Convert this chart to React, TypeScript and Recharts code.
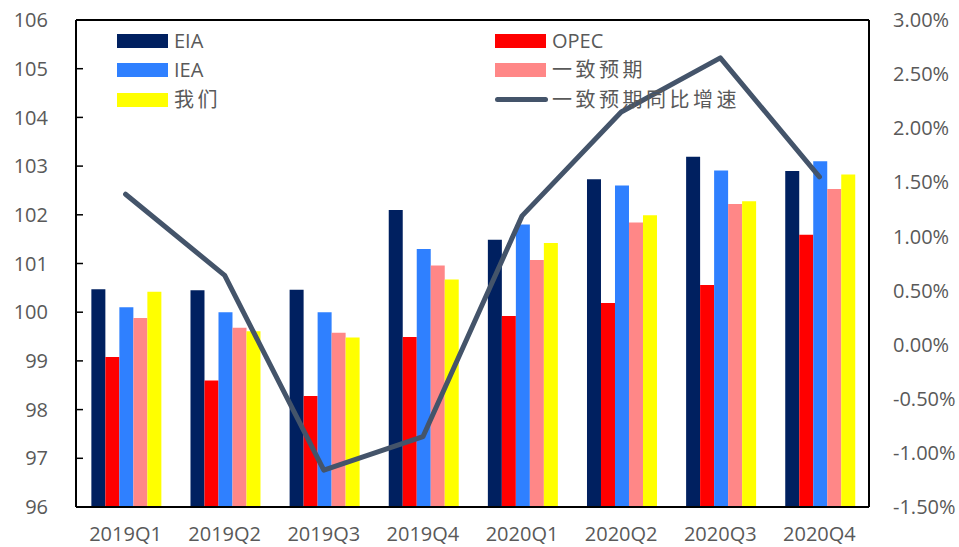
import React from "react";
import { ComposedChart, Bar, Line, XAxis, YAxis, ReferenceLine } from "recharts";

// Quarterly demand forecasts (index) and the consensus year-over-year growth (%)
const quarters = ["2019Q1", "2019Q2", "2019Q3", "2019Q4", "2020Q1", "2020Q2", "2020Q3", "2020Q4"];
const eia = [100.47, 100.45, 100.46, 102.1, 101.49, 102.73, 103.19, 102.9];
const opec = [99.08, 98.6, 98.28, 99.49, 99.92, 100.19, 100.56, 101.59];
const iea = [100.1, 100.0, 100.0, 101.3, 101.8, 102.6, 102.91, 103.1];
const consensus = [99.88, 99.68, 99.58, 100.96, 101.07, 101.84, 102.22, 102.53];
const ours = [100.42, 99.61, 99.48, 100.67, 101.42, 101.99, 102.28, 102.83];
const consensusYoY = [1.39, 0.64, -1.16, -0.85, 1.19, 2.15, 2.65, 1.55];

const leftTicks = [96, 97, 98, 99, 100, 101, 102, 103, 104, 105, 106];
const rightTicks = [-1.5, -1.0, -0.5, 0, 0.5, 1.0, 1.5, 2.0, 2.5, 3.0];

const barSeries = [
  { key: "eia", name: "EIA", color: "#002060" },
  { key: "opec", name: "OPEC", color: "#FF0000" },
  { key: "iea", name: "IEA", color: "#2F80FF" },
  { key: "consensus", name: "一致预期", color: "#FF8787" },
  { key: "ours", name: "我们", color: "#FFFF00" },
];
const lineSeries = { key: "yoy", name: "一致预期同比增速", color: "#44546A" };

const data = quarters.map((q, i) => ({
  name: q,
  eia: eia[i],
  opec: opec[i],
  iea: iea[i],
  consensus: consensus[i],
  ours: ours[i],
  yoy: consensusYoY[i],
}));

const FONT = "'Open Sans', 'Noto Sans CJK SC', sans-serif";
const TEXT = "#595959";
const tickStyle = { fill: TEXT, fontSize: 20, fontFamily: FONT };

function LegendGrid() {
  const items = [
    ...barSeries.map((s) => ({ name: s.name, color: s.color, line: false })),
    { name: lineSeries.name, color: lineSeries.color, line: true },
  ];
  return (
    <div
      style={{
        position: "absolute",
        left: 117,
        top: 26,
        display: "grid",
        gridTemplateColumns: "378px 300px",
        gridAutoRows: "29.5px",
        fontFamily: FONT,
        fontSize: 20,
        color: TEXT,
        pointerEvents: "none",
      }}
    >
      {items.map((it) => (
        <div key={it.name} style={{ display: "flex", alignItems: "center", height: 29.5 }}>
          {it.line ? (
            <div style={{ width: 53, height: 5, borderRadius: 3, background: it.color, marginRight: 4 }} />
          ) : (
            <div style={{ width: 51, height: 14, background: it.color, marginRight: 6 }} />
          )}
          <span style={{ letterSpacing: /[^\x00-\x7f]/.test(it.name) ? 3.5 : 0, lineHeight: "20px" }}>{it.name}</span>
        </div>
      ))}
    </div>
  );
}

export default function App() {
  return (
    <div style={{ position: "relative", width: 959, height: 547, background: "#fff" }}>
      <style>{"body{margin:0}"}</style>
      <ComposedChart
        width={959}
        height={547}
        data={data}
        margin={{ top: 20, right: 0, bottom: 0, left: 0 }}
        barGap={0}
        barCategoryGap="15.5%"
      >
        <XAxis
          dataKey="name"
          height={40}
          tickLine={false}
          tickSize={0}
          tickMargin={20}
          axisLine={{ stroke: "#000", strokeWidth: 2 }}
          tick={tickStyle}
        />
        <YAxis
          yAxisId="left"
          width={76}
          domain={[96, 106]}
          ticks={leftTicks}
          interval={0}
          tickSize={-7}
          tickMargin={35}
          tickLine={{ stroke: "#000", strokeWidth: 1.5 }}
          axisLine={{ stroke: "#000", strokeWidth: 2 }}
          tick={tickStyle}
          allowDataOverflow
        />
        <YAxis
          yAxisId="right"
          orientation="right"
          width={90}
          domain={[-1.5, 3]}
          ticks={rightTicks}
          interval={0}
          tickLine={false}
          tickSize={0}
          tickMargin={24}
          axisLine={{ stroke: "#000", strokeWidth: 2 }}
          tick={{ ...tickStyle, textAnchor: "start" }}
          tickFormatter={(v: number) => `${v.toFixed(2)}%`}
          allowDataOverflow
        />
        <ReferenceLine yAxisId="left" y={106} stroke="#000" strokeWidth={2} />
        {barSeries.map((s) => (
          <Bar
            key={s.key}
            yAxisId="left"
            dataKey={s.key}
            name={s.name}
            fill={s.color}
            isAnimationActive={false}
          />
        ))}
        <Line
          yAxisId="right"
          dataKey={lineSeries.key}
          name={lineSeries.name}
          stroke={lineSeries.color}
          strokeWidth={5}
          strokeLinecap="round"
          strokeLinejoin="round"
          dot={false}
          activeDot={false}
          type="linear"
          isAnimationActive={false}
        />
      </ComposedChart>
      <LegendGrid />
    </div>
  );
}
